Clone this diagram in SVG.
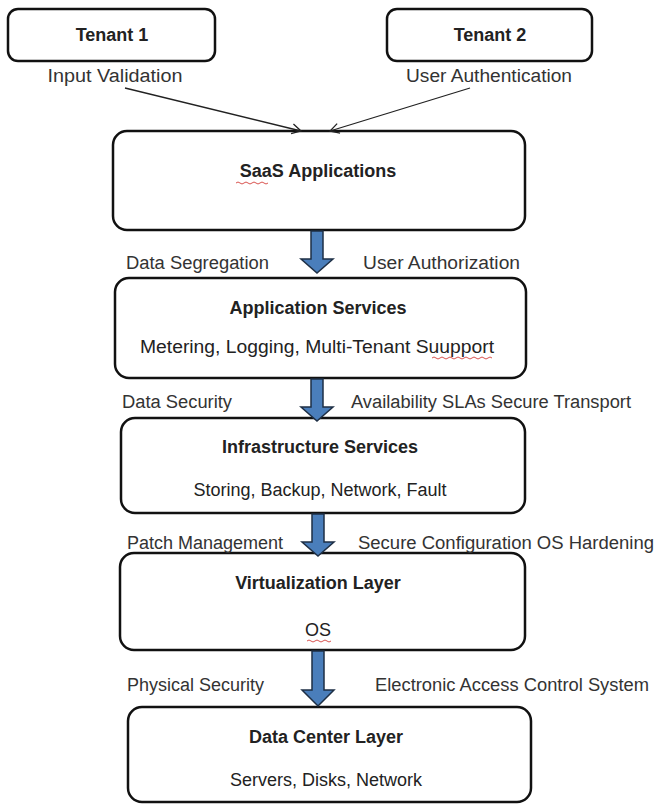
<svg xmlns="http://www.w3.org/2000/svg" width="657" height="808" viewBox="0 0 657 808">
<defs>
<style>
.box{fill:#fff;stroke:#111;stroke-width:2.5}
.t{font-family:"Liberation Sans",Arial,sans-serif;font-size:18px;fill:#222;text-anchor:middle}
.b{font-weight:bold}
.l{font-family:"Liberation Sans",Arial,sans-serif;font-size:18px;fill:#333}
.thin{stroke:#222;stroke-width:1.3;fill:none}
.blk{fill:#4a7ebb;stroke:#1e2f45;stroke-width:1.5;stroke-linejoin:miter}
.sq{fill:none;stroke:#d9534f;stroke-width:1}
</style>
<marker id="ah" markerWidth="12" markerHeight="12" refX="10" refY="6" orient="auto" markerUnits="userSpaceOnUse">
<path d="M1,1 L10,6 L1,11" fill="none" stroke="#222" stroke-width="1.3"/>
</marker>
<path id="blockArrow" d="M-6,0 L6,0 L6,28 L16,28 L0,42 L-16,28 L-6,28 Z"/>
</defs>
<rect width="657" height="808" fill="#fff"/>

<g id="tenant1">
<rect class="box" x="8" y="9" width="207" height="52" rx="10"/>
<text class="t b" x="112" y="41">Tenant 1</text>
</g>
<g id="tenant2">
<rect class="box" x="387" y="9" width="205" height="52" rx="10"/>
<text class="t b" x="490" y="41">Tenant 2</text>
</g>
<g id="saas">
<rect class="box" x="113" y="131" width="412" height="99" rx="14"/>
<text class="t b" x="318" y="177">SaaS Applications</text>
<path class="sq" d="M236,183 q2,-2 4,0 t4,0 t4,0 t4,0 t4,0 t4,0 t4,0 t4,0"/>
</g>
<g id="appservices">
<rect class="box" x="115" y="278" width="411" height="100" rx="14"/>
<text class="t b" x="318" y="314">Application Services</text>
<text class="t" x="317" y="353" textLength="354" lengthAdjust="spacingAndGlyphs">Metering, Logging, Multi-Tenant Suupport</text>
<path class="sq" d="M432,358 q2,-2 4,0 t4,0 t4,0 t4,0 t4,0 t4,0 t4,0 t4,0 t4,0 t4,0 t4,0 t4,0 t4,0 t4,0 t4,0"/>
</g>
<g id="infra">
<rect class="box" x="121" y="418" width="404" height="95" rx="14"/>
<text class="t b" x="320" y="453">Infrastructure Services</text>
<text class="t" x="320" y="496">Storing, Backup, Network, Fault</text>
</g>
<g id="virtualization">
<rect class="box" x="120" y="553" width="405" height="97" rx="14"/>
<text class="t b" x="318" y="589">Virtualization Layer</text>
<text class="t" x="318" y="636">OS</text>
<path class="sq" d="M307,641 q2,-2 4,0 t4,0 t4,0 t4,0 t4,0 t4,0"/>
</g>
<g id="datacenter">
<rect class="box" x="128" y="707" width="403" height="95" rx="14"/>
<text class="t b" x="326" y="743">Data Center Layer</text>
<text class="t" x="326" y="786">Servers, Disks, Network</text>
</g>

<g id="connectors">
<line class="thin" x1="125" y1="88" x2="301" y2="131" marker-end="url(#ah)"/>
<line class="thin" x1="470" y1="88" x2="330" y2="131" marker-end="url(#ah)"/>
<use href="#blockArrow" class="blk" transform="translate(317,231)"/>
<use href="#blockArrow" class="blk" transform="translate(317,379)"/>
<use href="#blockArrow" class="blk" transform="translate(318,514)"/>
<path class="blk" d="M312,651 L324,651 L324,690 L334,690 L318,706 L302,690 L312,690 Z"/>
</g>

<g id="labels">
<text class="t" x="115" y="82" style="fill:#333" textLength="135" lengthAdjust="spacingAndGlyphs">Input Validation</text>
<text class="t" x="489" y="82" style="fill:#333" textLength="166" lengthAdjust="spacingAndGlyphs">User Authentication</text>
<text class="l" x="126" y="269" textLength="143" lengthAdjust="spacingAndGlyphs">Data Segregation</text>
<text class="l" x="363" y="269" textLength="157" lengthAdjust="spacingAndGlyphs">User Authorization</text>
<text class="l" x="122" y="408" textLength="110" lengthAdjust="spacingAndGlyphs">Data Security</text>
<text class="l" x="351" y="408" textLength="280" lengthAdjust="spacingAndGlyphs">Availability SLAs Secure Transport</text>
<text class="l" x="127" y="549">Patch Management</text>
<text class="l" x="358" y="549" textLength="296" lengthAdjust="spacingAndGlyphs">Secure Configuration OS Hardening</text>
<text class="l" x="127" y="691">Physical Security</text>
<text class="l" x="375" y="691" textLength="274" lengthAdjust="spacingAndGlyphs">Electronic Access Control System</text>
</g>
</svg>
